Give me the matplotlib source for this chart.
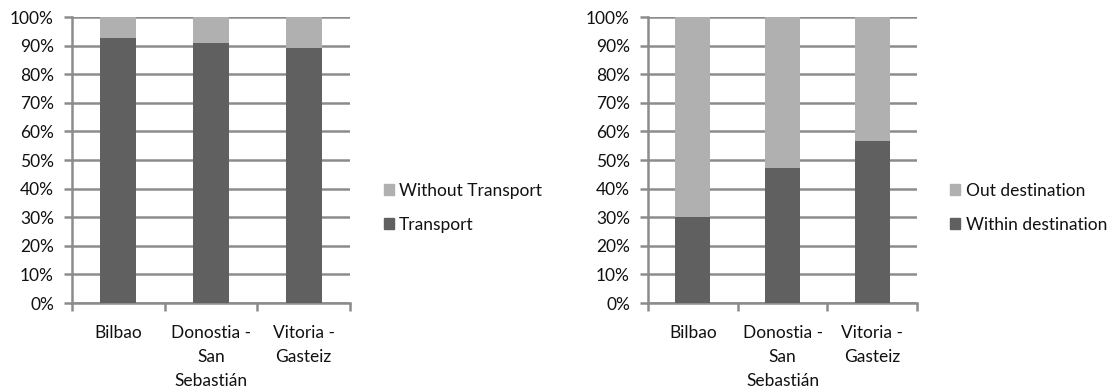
import matplotlib.pyplot as plt
from matplotlib.patches import Patch
from matplotlib.ticker import PercentFormatter, FixedLocator
import numpy as np

plt.rcParams['font.family'] = ['Lato', 'DejaVu Sans']

cities = ['Bilbao', 'Donostia -\nSan\nSebastián', 'Vitoria -\nGasteiz']

# share of trips using transport (%)
transport = [92.5, 90.8, 89.0]
without_transport = [100 - v for v in transport]

# share of activities within the destination (%)
within_dest = [30.2, 47.3, 56.6]
out_dest = [100 - v for v in within_dest]

dark = '#606060'
light = '#b0b0b0'
grid_c = '#8c8c8c'
txt = '#111111'

fig = plt.figure(figsize=(11.15, 3.92), dpi=100)
ax1 = fig.add_axes([0.0646, 0.227, 0.2493, 0.7296])
ax2 = fig.add_axes([0.5812, 0.227, 0.2413, 0.7296])


def stacked(ax, bottom_vals, top_vals, labels, legend_x):
    x = np.arange(len(cities))
    ax.bar(x, bottom_vals, width=0.39, color=dark, zorder=3)
    ax.bar(x, top_vals, width=0.39, bottom=bottom_vals, color=light, zorder=3)
    ax.set_xlim(-0.5, len(cities) - 0.5)
    ax.set_ylim(0, 100)
    ax.set_yticks(np.arange(0, 101, 10))
    ax.yaxis.set_major_formatter(PercentFormatter(decimals=0))
    ax.grid(axis='y', color=grid_c, linewidth=1.8, zorder=0)
    ax.set_axisbelow(True)

    # category labels between boundary ticks
    ax.xaxis.set_major_locator(FixedLocator(np.arange(-0.5, len(cities), 1.0)))
    ax.set_xticklabels([])
    ax.set_xticks(x, minor=True)
    ax.set_xticklabels(cities, minor=True, fontsize=12.5, linespacing=1.62,
                       va='top', color=txt)
    ax.tick_params(axis='x', which='minor', length=0, pad=16)
    ax.tick_params(axis='x', which='major', length=6, width=1.8, color=grid_c)
    ax.tick_params(axis='y', length=6, width=1.8, color=grid_c, pad=7,
                   labelsize=12.5, labelcolor=txt)

    for s in ['top', 'right']:
        ax.spines[s].set_visible(False)
    for s in ['left', 'bottom']:
        ax.spines[s].set_color(grid_c)
        ax.spines[s].set_linewidth(1.8)

    handles = [Patch(color=light, label=labels[1]),
               Patch(color=dark, label=labels[0])]
    fig.legend(handles=handles, loc='center left',
               bbox_to_anchor=(legend_x, 0.47), frameon=False,
               fontsize=12.5, handlelength=0.6, handleheight=0.6,
               handletextpad=0.3, labelspacing=1.05, labelcolor=txt)


stacked(ax1, transport, without_transport,
        ['Transport', 'Without Transport'], 0.330)
stacked(ax2, within_dest, out_dest,
        ['Within destination', 'Out destination'], 0.838)

fig.savefig('out.png', dpi=100)
